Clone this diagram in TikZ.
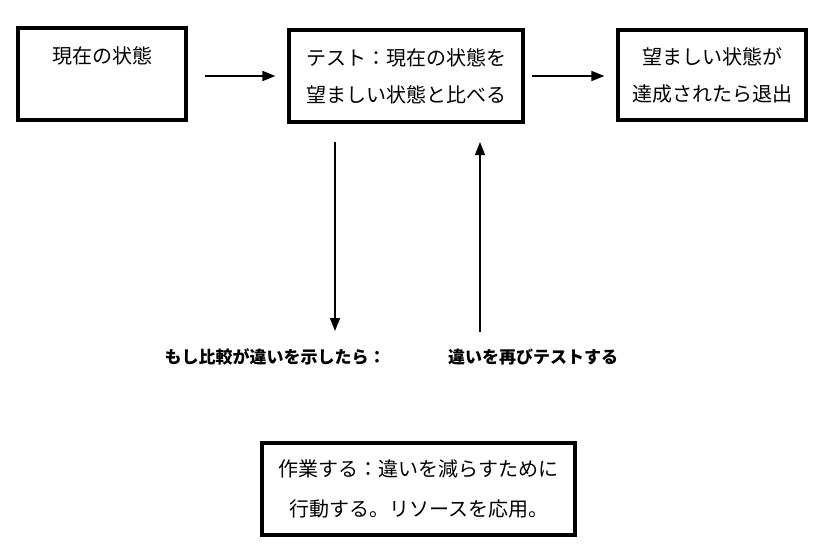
\documentclass[tikz,border=0pt]{standalone}
\usepackage{fontspec}
\newfontfamily\cjk{Noto Sans CJK JP}
\usetikzlibrary{
  arrows.meta,
  calc,
  positioning
}
\tikzset{
  state/.style = {
    draw,
    line width=3.2pt,
    inner sep=0pt,
    align=center,
    font=\cjk\fontsize{20}{37}\selectfont
  },
  step note/.style = {
    font=\cjk\bfseries\fontsize{17}{20}\selectfont
  },
  flow/.style = {
    line width=1.5pt,
    -{Triangle[length=13pt,width=10pt]}
  },
}

\begin{document}
\begin{tikzpicture}[x=1pt,y=-1pt]
  \useasboundingbox (0,0) rectangle (826,554);

  \node[state, minimum width=168pt, minimum height=92pt] (now) at (102,74)
    {現在の状態\\\mbox{}};
  \node[state, minimum width=234pt, minimum height=92pt] (test) at (406,76)
    {テスト：現在の状態を\\望ましい状態と比べる};
  \node[state, minimum width=188pt, minimum height=90pt] (goal) at (712,75)
    {望ましい状態が\\達成されたら退出};
  \node[state, minimum width=313pt, minimum height=92pt,
        font=\cjk\fontsize{20}{40}\selectfont] (work) at (418.5,489)
    {作業する：違いを減らすために\\行動する。リソースを応用。};

  \node[step note] (diff) at (275,357) {もし比較が違いを示したら：};
  \node[step note] (retest) at (533,357) {違いを再びテストする};

  % vertical connectors
  \coordinate (down-top) at (335,142);
  \coordinate (down-end) at (335,331);
  \coordinate (up-start) at (480,332);
  \coordinate (up-top) at (480,142);

  \draw[flow] ([xshift=17pt]now.east |- test.west) -- ([xshift=-12pt]test.west);
  \draw[flow] ([xshift=7pt]test.east) -- ([xshift=-12pt]goal.west |- test.east);
  \draw[flow] (down-top) -- (down-end);
  \draw[flow] (up-start) -- (up-top);
\end{tikzpicture}
\end{document}
